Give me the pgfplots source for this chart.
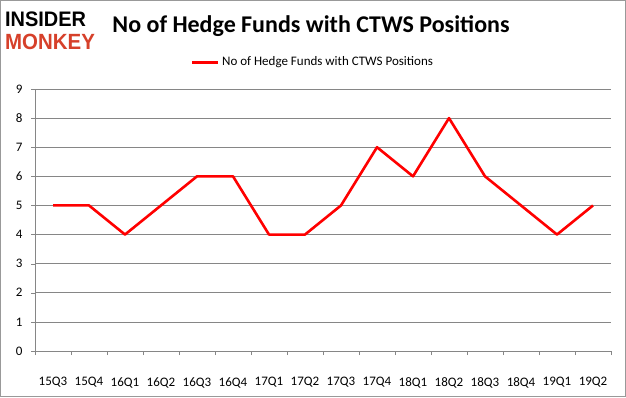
\documentclass[border=0pt]{standalone}
\usepackage{fontspec}
\setmainfont{Carlito}
\newfontfamily\logofont{Liberation Sans}
\usepackage{pgfplots}
\pgfplotsset{compat=1.18}
\definecolor{monkeyred}{RGB}{214,64,42}
\definecolor{gridgray}{RGB}{134,134,134}
\begin{document}
\begin{tikzpicture}[x=1pt,y=1pt]
\draw[draw=gray!80, line width=1pt] (0.5,0.5) rectangle (625.5,396.5);
\node[anchor=base west, inner sep=0, font=\logofont\bfseries\fontsize{21}{21}\selectfont, xscale=0.95] at (5,370) {INSIDER};
\node[anchor=base west, inner sep=0, font=\logofont\bfseries\fontsize{22}{22}\selectfont, text=monkeyred, xscale=0.93] at (5,347) {MONKEY};
\node[anchor=center, inner sep=0, font=\bfseries\fontsize{24}{28}\selectfont] at (311,371) {No of Hedge Funds with CTWS Positions};
\draw[red, line width=2.2pt] (192,334.5) -- (218,334.5);
\node[anchor=west, inner sep=0, font=\fontsize{13}{15}\selectfont] at (222,334.5) {No of Hedge Funds with CTWS Positions};
\begin{axis}[
  at={(35pt,46pt)}, anchor=south west,
  scale only axis, width=576pt, height=262pt,
  xmin=-0.5, xmax=15.5, ymin=0, ymax=9,
  ytick={0,...,9},
  xtick={0,...,15},
  xticklabels={15Q3,15Q4,16Q1,16Q2,16Q3,16Q4,17Q1,17Q2,17Q3,17Q4,18Q1,18Q2,18Q3,18Q4,19Q1,19Q2},
  minor xtick={-0.5,0.5,...,15.5},
  major x tick style={draw=none},
  minor x tick style={draw=gridgray},
  minor tick length=4pt,
  major tick length=4pt,
  xtick pos=bottom, ytick pos=left,
  tick align=outside,
  ytick style={draw=gridgray},
  axis x line*=bottom, axis y line*=left,
  axis line style={draw=gridgray, line width=0.8pt},
  ymajorgrids, grid style={draw=gridgray, line width=0.6pt},
  xticklabel style={font=\fontsize{13}{15}\selectfont, yshift=-19pt},
  yticklabel style={font=\fontsize{13}{15}\selectfont, xshift=-5pt},
  /pgf/number format/assume math mode=true,
  clip=false,
]
\addplot[red, line width=2.6pt, line join=round] coordinates {
(0,5) (1,5) (2,4) (3,5) (4,6) (5,6) (6,4) (7,4) (8,5) (9,7) (10,6) (11,8) (12,6) (13,5) (14,4) (15,5)
};
\end{axis}
\end{tikzpicture}
\end{document}
